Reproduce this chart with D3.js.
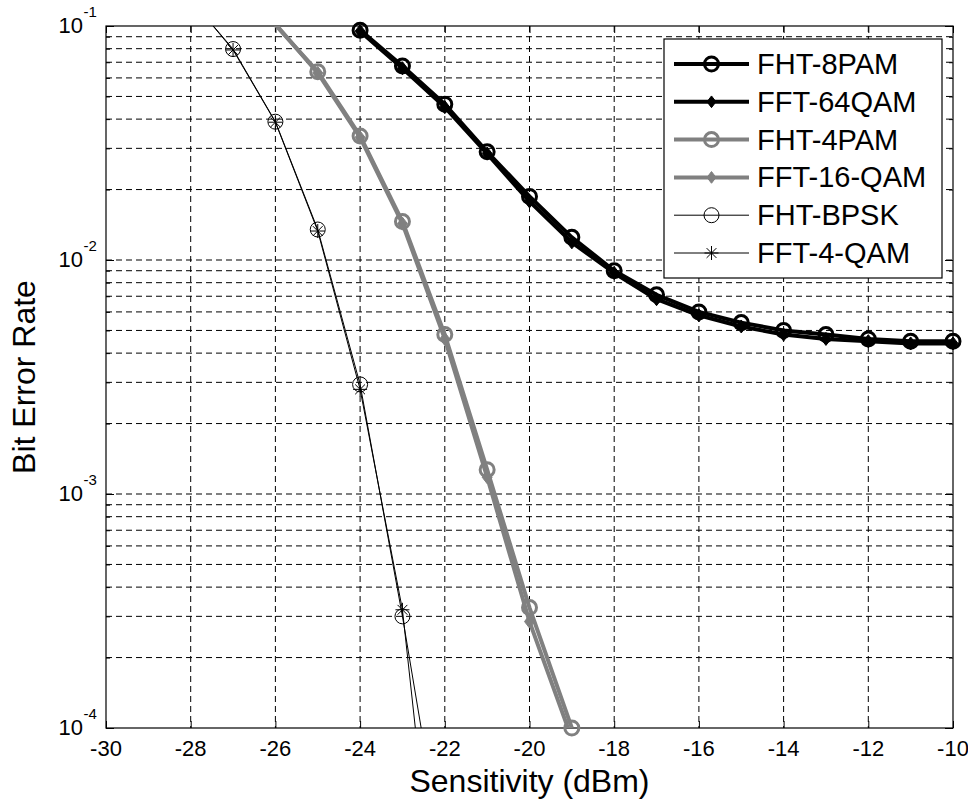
<!DOCTYPE html>
<html>
<head>
<meta charset="utf-8">
<script src="https://cdn.jsdelivr.net/npm/d3@7"></script>
<style>
  html, body { margin: 0; height: 100%; background: #fff; overflow: hidden; }
  svg { display: block; width: 100vw; height: 100vh; }
  text { font-family: "Liberation Sans", Arial, sans-serif; fill: #000; }
</style>
</head>
<body>
<svg id="chart" viewBox="0 0 968 805" preserveAspectRatio="xMidYMid meet"></svg>
<script>
// data (sensitivity in dBm, BER)
const x8pam = [-24, -23, -22, -21, -20, -19, -18, -17, -16, -15, -14, -13, -12, -11, -10];
const fht8pam = [0.096, 0.0675, 0.0463, 0.029, 0.0187, 0.0125, 0.009, 0.0071, 0.006, 0.0054, 0.005, 0.0048, 0.0046, 0.0045, 0.0045];
const fft64qam = [0.095, 0.066, 0.045, 0.0285, 0.0178, 0.0119, 0.0088, 0.0068, 0.0058, 0.0052, 0.0048, 0.0046, 0.0045, 0.0044, 0.0044];

const x4pam = [-26, -25, -24, -23, -22, -21, -20, -19];
const fht4pam = [0.101, 0.0638, 0.0339, 0.0146, 0.0048, 0.00127, 0.000327, 0.0001];
const fft16qam = [0.102, 0.063, 0.0334, 0.0143, 0.0046, 0.00118, 0.000285, 0.00009];

const xbpsk = [-28, -27, -26, -25, -24, -23, -22];
const fhtbpsk = [0.13, 0.0797, 0.039, 0.0135, 0.00294, 0.0003, 0.000025];
const fft4qam = [0.13, 0.079, 0.0388, 0.0133, 0.0028, 0.00032, 0.000007];

const xTicks = [-30, -28, -26, -24, -22, -20, -18, -16, -14, -12, -10];
const yDecades = [1e-4, 1e-3, 1e-2, 1e-1];
const yExponents = ["-4", "-3", "-2", "-1"];

const series = [
  {name: "FHT-8PAM", xs: x8pam, ys: fht8pam, color: "#000", width: 4, marker: "circle", ms: 7},
  {name: "FFT-64QAM", xs: x8pam, ys: fft64qam, color: "#000", width: 4, marker: "diamond", ms: 5},
  {name: "FHT-4PAM", xs: x4pam, ys: fht4pam, color: "#808080", width: 4, marker: "circle", ms: 7},
  {name: "FFT-16-QAM", xs: x4pam, ys: fft16qam, color: "#808080", width: 4, marker: "diamond", ms: 5},
  {name: "FHT-BPSK", xs: xbpsk, ys: fhtbpsk, color: "#000", width: 1, marker: "circle", ms: 7.5},
  {name: "FFT-4-QAM", xs: xbpsk, ys: fft4qam, color: "#000", width: 1, marker: "star", ms: 7}
];

const svg = d3.select("#chart");
const width = 968;
const height = 805;
const margin = {top: 26, right: 15, bottom: 77, left: 106};
const innerWidth = width - margin.left - margin.right;
const innerHeight = height - margin.top - margin.bottom;

// scales in page pixels
const x = d3.scaleLinear().domain([-30, -10]).range([margin.left, margin.left + innerWidth]);
const y = d3.scaleLog().domain([1e-4, 1e-1]).range([margin.top + innerHeight, margin.top]);

svg.append("defs").append("clipPath").attr("id", "clip")
  .append("rect")
    .attr("x", margin.left).attr("y", margin.top)
    .attr("width", innerWidth).attr("height", innerHeight);

// grid
const dash = "6,4";
svg.append("g").selectAll("line")
  .data(xTicks.slice(1, -1))
  .enter().append("line")
    .attr("x1", d => x(d)).attr("x2", d => x(d))
    .attr("y1", margin.top).attr("y2", margin.top + innerHeight)
    .attr("stroke", "#000").attr("stroke-width", 1)
    .attr("stroke-dasharray", dash);

const yAll = y.ticks();
svg.append("g").selectAll("line")
  .data(yAll.filter(d => d > 1.0001e-4 && d < 0.0999))
  .enter().append("line")
    .attr("x1", margin.left).attr("x2", margin.left + innerWidth)
    .attr("y1", d => y(d)).attr("y2", d => y(d))
    .attr("stroke", "#000").attr("stroke-width", 1)
    .attr("stroke-dasharray", dash);

// axes with inward ticks (labels drawn separately)
function tickOnly(g) {
  g.select(".domain").remove();
  g.selectAll("text").remove();
}

svg.append("g")
    .attr("transform", "translate(0," + (margin.top + innerHeight) + ")")
    .call(d3.axisBottom(x).tickValues(xTicks).tickSizeInner(-7).tickSizeOuter(0))
    .call(tickOnly);
svg.append("g")
    .attr("transform", "translate(0," + margin.top + ")")
    .call(d3.axisTop(x).tickValues(xTicks).tickSizeInner(-7).tickSizeOuter(0))
    .call(tickOnly);

const yMinor = yAll.filter(d => !yDecades.some(v => Math.abs(v - d) / v < 1e-6));
[[margin.left, d3.axisLeft], [margin.left + innerWidth, d3.axisRight]].forEach(([pos, axisFn]) => {
  svg.append("g")
      .attr("transform", "translate(" + pos + ",0)")
      .call(axisFn(y).tickValues(yDecades).tickSizeInner(-8).tickSizeOuter(0))
      .call(tickOnly);
  svg.append("g")
      .attr("transform", "translate(" + pos + ",0)")
      .call(axisFn(y).tickValues(yMinor).tickSizeInner(-4).tickSizeOuter(0))
      .call(tickOnly);
});

// x tick labels
svg.append("g").selectAll("text")
  .data(xTicks)
  .enter().append("text")
    .attr("x", d => x(d))
    .attr("y", margin.top + innerHeight + 28)
    .attr("text-anchor", "middle")
    .attr("font-size", 22)
    .text(d => String(d));

// y tick labels 10^n
svg.append("g").selectAll("text")
  .data(yDecades)
  .enter().append("text")
    .attr("x", margin.left - 23)
    .attr("y", d => y(d) + 7)
    .attr("text-anchor", "end")
    .attr("font-size", 22)
    .text("10");
svg.append("g").selectAll("text")
  .data(yDecades)
  .enter().append("text")
    .attr("x", margin.left - 22.5)
    .attr("y", d => y(d) - 9)
    .attr("font-size", 15)
    .text((d, i) => yExponents[i]);

// box
svg.append("rect")
    .attr("x", margin.left).attr("y", margin.top)
    .attr("width", innerWidth).attr("height", innerHeight)
    .attr("fill", "none").attr("stroke", "#000").attr("stroke-width", 1.2);

// marker drawing
function drawMarker(g, type, size, color, lw) {
  if (type === "circle") {
    g.append("circle").attr("r", size)
      .attr("fill", "none").attr("stroke", color).attr("stroke-width", lw);
  } else if (type === "diamond") {
    g.append("path")
      .attr("d", "M0," + (-size * 1.3) + "L" + size + ",0L0," + (size * 1.3) + "L" + (-size) + ",0Z")
      .attr("fill", color).attr("stroke", color).attr("stroke-width", 1);
  } else if (type === "star") {
    const s = size, d = size * 0.7;
    g.append("path")
      .attr("d", "M0," + (-s) + "V" + s + "M" + (-d) + "," + (-d) + "L" + d + "," + d +
                 "M" + d + "," + (-d) + "L" + (-d) + "," + d + "M" + (-s) + ",0H" + s)
      .attr("fill", "none").attr("stroke", color).attr("stroke-width", 1);
  }
}

const line = d3.line().x(d => x(d[0])).y(d => y(d[1]));

series.forEach(s => {
  const pts = s.xs.map((v, i) => [v, s.ys[i]]);
  svg.append("path")
      .datum(pts)
      .attr("clip-path", "url(#clip)")
      .attr("fill", "none")
      .attr("stroke", s.color)
      .attr("stroke-width", s.width)
      .attr("stroke-linejoin", "round")
      .attr("d", line);
  pts.filter(p => p[1] <= 0.1 && p[1] >= 0.99e-4).forEach(p => {
    const g = svg.append("g").attr("transform", "translate(" + x(p[0]) + "," + y(p[1]) + ")");
    drawMarker(g, s.marker, s.ms, s.color, s.width > 2 ? 3 : 1);
  });
});

// legend
const legend = svg.append("g").attr("transform", "translate(664,39)");
legend.append("rect")
    .attr("width", 278).attr("height", 239)
    .attr("fill", "#fff").attr("stroke", "#000").attr("stroke-width", 1.2);
series.forEach((s, i) => {
  const row = legend.append("g").attr("transform", "translate(0," + (25 + i * 37.8) + ")");
  row.append("line")
      .attr("x1", 10).attr("x2", 85)
      .attr("stroke", s.color).attr("stroke-width", s.width);
  const m = row.append("g").attr("transform", "translate(47.5,0)");
  drawMarker(m, s.marker, s.marker === "diamond" ? 4.5 : s.ms, s.color, s.width > 2 ? 3 : 1);
  row.append("text")
      .attr("x", 93).attr("y", 10)
      .attr("font-size", 29)
      .text(s.name);
});

// axis titles
svg.append("text")
    .attr("x", margin.left + innerWidth / 2)
    .attr("y", 792)
    .attr("text-anchor", "middle")
    .attr("font-size", 32)
    .text("Sensitivity (dBm)");

svg.append("text")
    .attr("transform", "translate(35," + (margin.top + innerHeight / 2) + ") rotate(-90)")
    .attr("text-anchor", "middle")
    .attr("font-size", 32)
    .text("Bit Error Rate");
</script>
</body>
</html>
